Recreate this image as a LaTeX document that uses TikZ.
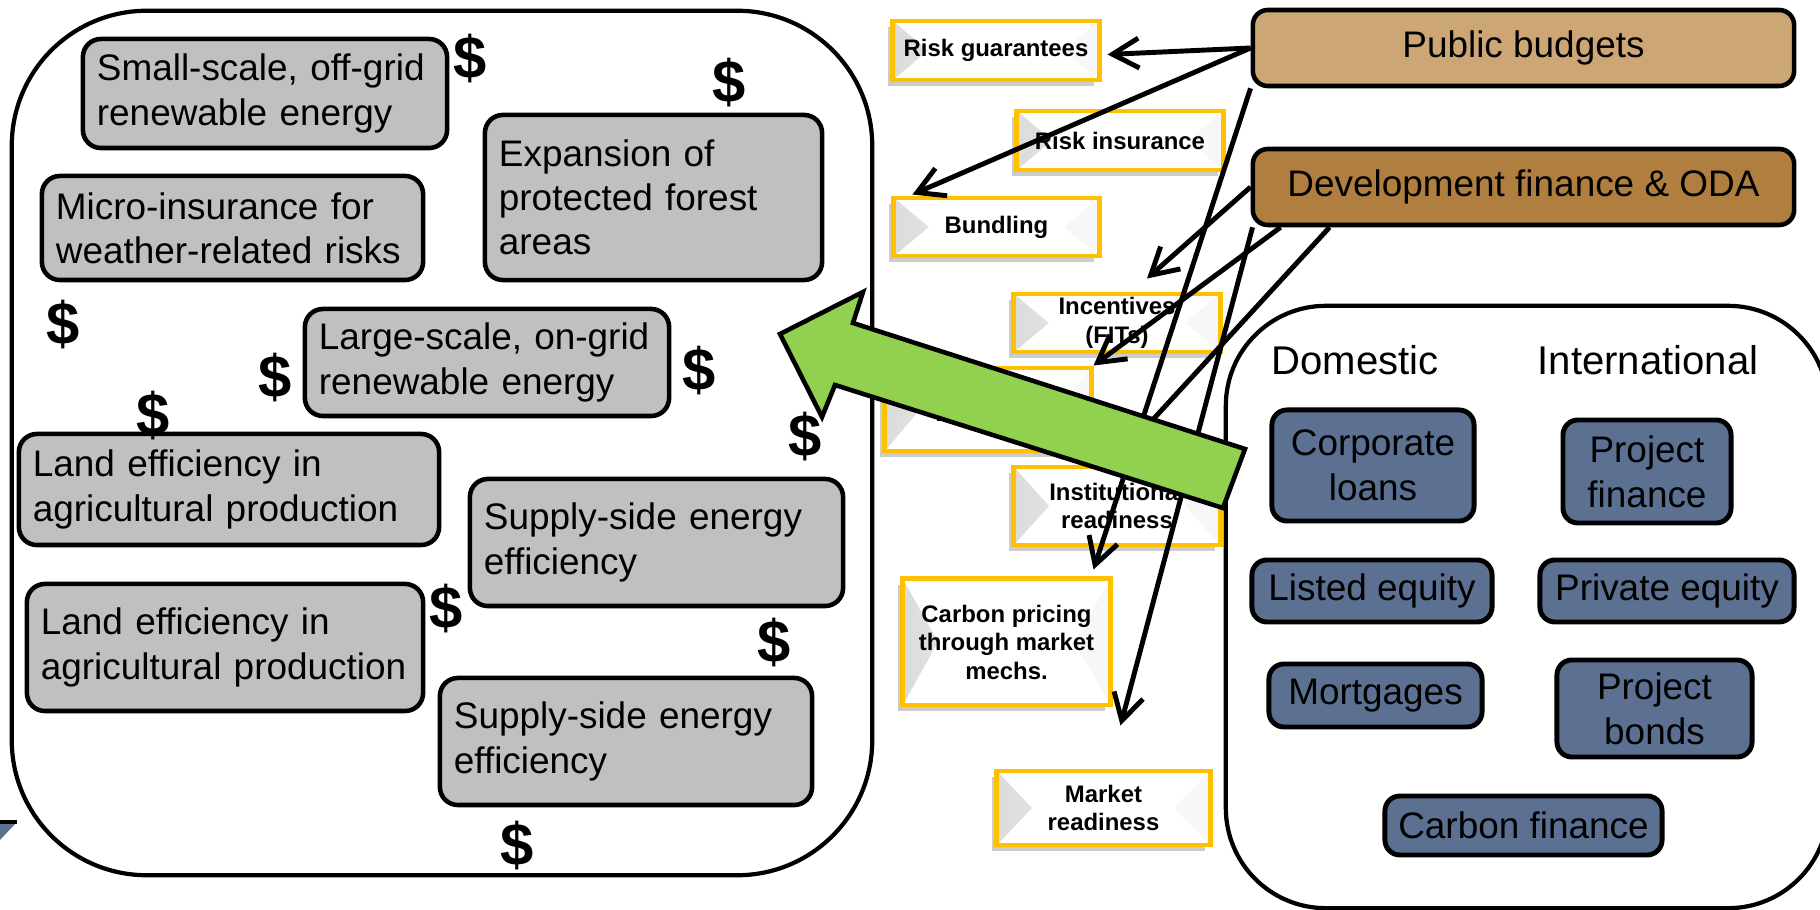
\documentclass[tikz,border=0pt]{standalone}
\usepackage{fontspec}
\setmainfont{Liberation Sans}
\usetikzlibrary{arrows.meta,calc,shadows}

\definecolor{boxgray}{RGB}{192,192,192}
\definecolor{budgettan}{RGB}{204,166,117}
\definecolor{devbrown}{RGB}{176,127,64}
\definecolor{slateblue}{RGB}{92,113,145}
\definecolor{arrowgreen}{RGB}{146,208,80}
\definecolor{gold}{RGB}{255,192,0}

\newcommand{\graytext}{\fontsize{10.5}{12.6}\selectfont}
\newcommand{\yellowtext}{\fontsize{6.8}{8.1}\selectfont\bfseries}
\newcommand{\bluetext}{\fontsize{10.5}{12.8}\selectfont}
\newcommand{\headtext}{\fontsize{11.4}{13}\selectfont}
\newcommand{\dollartext}{\fontsize{17}{17}\selectfont\bfseries}

\begin{document}
\begin{tikzpicture}[x=0.01cm,y=-0.01cm]
% Styles
\tikzstyle{container}=[draw, line width=1.2pt, fill=white, inner sep=0pt]
\tikzstyle{gray box}=[draw, line width=1.3pt, fill=boxgray, rounded corners=0.18cm, font=\graytext, align=left, inner xsep=0.14cm, inner ysep=0pt]
\tikzstyle{source box}=[draw, line width=1.3pt, rounded corners=0.15cm, font=\graytext, minimum width=5.41cm, minimum height=0.76cm]
\tikzstyle{blue box}=[draw, line width=1.4pt, fill=slateblue, rounded corners=0.15cm, font=\bluetext, align=center, inner sep=0pt]
\tikzstyle{yellow box}=[draw=gold, line width=1.4pt, fill=white, font=\yellowtext, align=center, inner sep=1pt,
  drop shadow={shadow xshift=-1.3pt, shadow yshift=-1.6pt, opacity=0.4},
  path picture={\shade[left color=gray!28, right color=white] (path picture bounding box.north west) -- ([xshift=0.35cm]path picture bounding box.west) -- (path picture bounding box.south west) -- cycle;
  \fill[gray!6] (path picture bounding box.north east) -- ([xshift=-0.35cm]path picture bounding box.east) -- (path picture bounding box.south east) -- cycle;}]
\tikzstyle{dollar}=[font=\dollartext, inner sep=0pt]
\tikzstyle{money flow}=[line width=1.4pt, -{Straight Barb[length=7.5pt,width=8.5pt]}]

\useasboundingbox (0,0) rectangle (1820,910);

% the two big frames
\node[container, rounded corners=1.35cm, minimum width=8.60cm, minimum height=8.64cm] (projects) at (442,443) {};
\node[container, rounded corners=1cm, minimum width=6.02cm, minimum height=6.02cm] (sources) at (1527,607) {};

% draw the project boxes
\node[gray box, text width=3.36cm, minimum height=1.09cm] (offgrid) at (265,93.5) {Small-scale, off-grid\\renewable energy};
\node[gray box, text width=3.53cm, minimum height=1.04cm] (microins) at (232.5,228) {Micro-insurance for\\weather-related risks};
\node[gray box, text width=3.09cm, minimum height=1.65cm] (forest) at (653.5,197.5) {Expansion of\\protected forest\\areas};
\node[gray box, text width=3.36cm, minimum height=1.07cm] (ongrid) at (487,362.5) {Large-scale, on-grid\\renewable energy};
\node[gray box, text width=3.92cm, minimum height=1.11cm] (landa) at (229,489.5) {Land efficiency in\\agricultural production};
\node[gray box, text width=3.45cm, minimum height=1.27cm] (supplya) at (656.5,542.5) {Supply-side energy\\efficiency};
\node[gray box, text width=3.68cm, minimum height=1.27cm] (landb) at (225,647.5) {Land efficiency in\\agricultural production};
\node[gray box, text width=3.44cm, minimum height=1.27cm] (supplyb) at (626,741.5) {Supply-side energy\\efficiency};

% the dollar signs
\foreach \x/\y [count=\i] in {470/59, 729/83, 63/325, 275/378, 699/371, 153/416, 805/437, 446/609, 774/643, 517/846} {
\node[dollar] (usd\i) at (\x,\y) {\$};
}

% sources of money
\node[source box, fill=budgettan] (budgets) at (1523.5,48) {Public budgets};
\node[source box, fill=devbrown] (devfin) at (1523.5,187) {Development finance \& ODA};

\node[font=\headtext] (domestic) at (1355,360) {Domestic};
\node[font=\headtext] (intl) at (1648,360) {International};

\node[blue box, minimum width=2.02cm, minimum height=1.11cm] (corploans) at (1373,465.5) {Corporate\\loans};
\node[blue box, minimum width=1.68cm, minimum height=1.03cm] (projfin) at (1647,471.5) {Project\\finance};
\node[blue box, minimum width=2.40cm, minimum height=0.62cm] (listed) at (1372,591) {Listed equity};
\node[blue box, minimum width=2.54cm, minimum height=0.62cm] (private) at (1667,591) {Private equity};
\node[blue box, minimum width=2.13cm, minimum height=0.63cm] (mortgage) at (1375.5,695.5) {Mortgages};
\node[blue box, minimum width=1.95cm, minimum height=0.97cm] (projbonds) at (1654.5,708.5) {Project\\bonds};
\node[blue box, minimum width=2.77cm, minimum height=0.59cm] (carbfin) at (1523.5,825.5) {Carbon finance};

% the instruments
\node[yellow box, minimum width=2.06cm, minimum height=0.59cm] (guarantee) at (996,50.5) {Risk guarantees};
\node[yellow box, minimum width=2.06cm, minimum height=0.59cm] (insurance) at (1120,140.5) {Risk insurance};
\node[yellow box, minimum width=2.05cm, minimum height=0.58cm] (bundling) at (996.5,227) {Bundling};
\node[yellow box, minimum width=2.06cm, minimum height=0.58cm] (incentive) at (1117,323) {Incentives\\(FITs)};
\node[yellow box, minimum width=2.06cm, minimum height=0.83cm] (blended) at (988,409.5) {\mbox{}\\financing};
\node[yellow box, minimum width=2.06cm, minimum height=0.78cm] (institut) at (1117,506) {Institutional\\readiness};
\node[yellow box, minimum width=2.07cm, minimum height=1.26cm] (carbon) at (1006.5,642) {Carbon pricing\\through market\\mechs.};
\node[yellow box, minimum width=2.13cm, minimum height=0.74cm] (market) at (1103.5,808) {Market\\readiness};

% we add the arrows from the sources
\draw[money flow] (budgets.west) -- ($(guarantee.east)+(6,4)$);
\draw[money flow] (budgets.west) -- ($(bundling.north west)+(21,-1)$);
\draw[money flow] (budgets.south west) -- ($(carbon.north east)+(-19,-7)$);
\draw[money flow] (devfin.west) -- ($(incentive.north)+(30,-13)$);
\draw[money flow] ($(devfin.south west)+(30,0)$) -- (blended.north east);
\draw[money flow] ($(devfin.south west)+(2,0)$) -- ($(market.north)+(17,-43)$);
\coordinate (hidden end) at (1125,450);
\draw[money flow] ($(devfin.south west)+(79,0)$) -- (hidden end);

% big green arrow
\draw[line width=1.3pt, fill=arrowgreen, line join=miter] (780,334) -- (863,292) -- (853,323) -- (1245,449) -- (1223,508) -- (835,385) -- (822,417) -- cycle;

% piece at the left edge
\fill[slateblue] (0,822) -- (17,822) -- (0,840) -- cycle;
\draw[line width=1pt] (0,822) -- (17,822);

\end{tikzpicture}
\end{document}
